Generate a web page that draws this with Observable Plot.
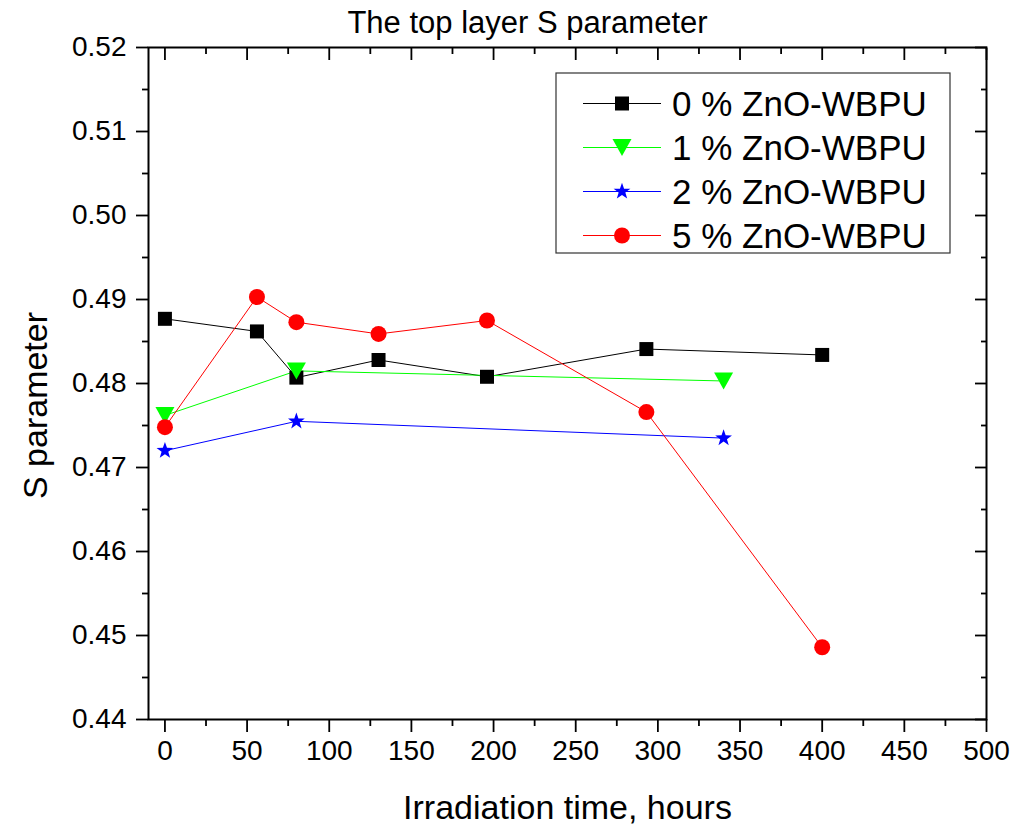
<!DOCTYPE html>
<html>
<head>
<meta charset="utf-8">
<script src="https://cdn.jsdelivr.net/npm/d3@7"></script>
<script src="https://cdn.jsdelivr.net/npm/@observablehq/plot@0.6"></script>
<style>
  html, body { margin: 0; padding: 0; background: white; }
  #chart { position: relative; width: 1017px; height: 831px; }
</style>
</head>
<body>
<div id="chart"></div>
<script>
// ---- Data ----
const seriesNames = ["0 % ZnO-WBPU", "1 % ZnO-WBPU", "2 % ZnO-WBPU", "5 % ZnO-WBPU"];
const seriesColors = ["#000000", "#00ff00", "#0000ff", "#ff0000"];

const hours0 = [0, 56, 80, 130, 196, 293, 400];
const sParam0 = [0.4877, 0.4862, 0.4807, 0.4828, 0.4808, 0.4841, 0.4834];

const hours1 = [0, 80, 340];
const sParam1 = [0.4762, 0.4815, 0.4803];

const hours2 = [0, 80, 340];
const sParam2 = [0.4720, 0.4755, 0.4735];

const hours5 = [0, 56, 80, 130, 196, 293, 400];
const sParam5 = [0.4748, 0.4903, 0.4873, 0.4859, 0.4875, 0.4766, 0.4486];

const xMajorTicks = [0, 50, 100, 150, 200, 250, 300, 350, 400, 450, 500];
const xMinorTicks = [25, 75, 125, 175, 225, 275, 325, 375, 425, 475];
const yMajorTicks = [0.44, 0.45, 0.46, 0.47, 0.48, 0.49, 0.50, 0.51, 0.52];
const yMinorTicks = [0.445, 0.455, 0.465, 0.475, 0.485, 0.495, 0.505, 0.515];

const titleText = "The top layer S parameter";
const xLabel = "Irradiation time, hours";
const yLabel = "S parameter";

// ---- Symbols ----
const symSquare = {draw(ctx) { const h = 7; ctx.rect(-h, -h, 2 * h, 2 * h); }};
const symTriDown = {draw(ctx) { ctx.moveTo(-9.5, -8.5); ctx.lineTo(9.5, -8.5); ctx.lineTo(0, 8.5); ctx.closePath(); }};
const symStar = {draw(ctx) {
  const R = 8.8, r = R * 0.40;
  for (let i = 0; i < 10; i++) {
    const rad = i % 2 === 0 ? R : r;
    const a = -Math.PI / 2 + i * Math.PI / 5;
    const px = rad * Math.cos(a), py = rad * Math.sin(a);
    if (i === 0) ctx.moveTo(px, py); else ctx.lineTo(px, py);
  }
  ctx.closePath();
}};
const symCircle = {draw(ctx) { ctx.moveTo(8, 0); ctx.arc(0, 0, 8, 0, 2 * Math.PI); }};
const symbols = [symSquare, symTriDown, symStar, symCircle];

// ---- Build table ----
const allHours = [hours0, hours1, hours2, hours5];
const allS = [sParam0, sParam1, sParam2, sParam5];
const rows = [];
allHours.forEach((hs, k) => hs.forEach((h, i) => rows.push({series: k, hours: h, s: allS[k][i]})));

const FONT = "'Liberation Sans', Arial, Helvetica, sans-serif";

const marks = [];
for (let k = 0; k < 4; k++) {
  const d = rows.filter(r => r.series === k);
  marks.push(Plot.line(d, {x: "hours", y: "s", stroke: seriesColors[k], strokeWidth: 1}));
}
for (let k = 0; k < 4; k++) {
  const d = rows.filter(r => r.series === k);
  marks.push(Plot.dot(d, {x: "hours", y: "s", symbol: () => symbols[k], fill: seriesColors[k], stroke: "none", r: 8}));
}

const chart = Plot.plot({
  width: 1017,
  height: 831,
  marginLeft: 148,
  marginRight: 31,
  marginTop: 47,
  marginBottom: 112,
  style: {fontFamily: FONT, fontSize: "28px", color: "black", background: "white", overflow: "visible"},
  x: {domain: [-10, 500], nice: false},
  y: {domain: [0.44, 0.52], nice: false},
  symbol: {type: "identity"},
  marks: [
    ...marks,
    // bottom axis (outward)
    Plot.axisX(xMajorTicks, {anchor: "bottom", tickSize: 13, tickPadding: 8, strokeWidth: 1.8, fontSize: 28, tickFormat: d => String(d), label: null}),
    Plot.axisX(xMinorTicks, {anchor: "bottom", tickSize: 7, strokeWidth: 1.8, tickFormat: () => "", label: null}),
    // top axis (inward)
    Plot.axisX(xMajorTicks, {anchor: "top", tickSize: -12, strokeWidth: 1.8, tickFormat: () => "", label: null}),
    Plot.axisX(xMinorTicks, {anchor: "top", tickSize: -6, strokeWidth: 1.8, tickFormat: () => "", label: null}),
    // left axis (outward)
    Plot.axisY(yMajorTicks, {anchor: "left", tickSize: 12, tickPadding: 10, strokeWidth: 1.8, fontSize: 28, tickFormat: d3.format(".2f"), label: null}),
    Plot.axisY(yMinorTicks, {anchor: "left", tickSize: 6, strokeWidth: 1.8, tickFormat: () => "", label: null}),
    // right axis (inward)
    Plot.axisY(yMajorTicks, {anchor: "right", tickSize: -12, strokeWidth: 1.8, tickFormat: () => "", label: null}),
    Plot.axisY(yMinorTicks, {anchor: "right", tickSize: -6, strokeWidth: 1.8, tickFormat: () => "", label: null}),
    Plot.frame({stroke: "black", strokeWidth: 2}),
    // title and axis labels
    Plot.text([titleText], {text: d => d, frameAnchor: "top", textAnchor: "middle", lineAnchor: "middle", dx: -40, dy: -24, fontSize: 31, fill: "black"}),
    Plot.text([xLabel], {text: d => d, frameAnchor: "bottom", textAnchor: "middle", lineAnchor: "middle", dy: 89, fontSize: 34, fill: "black"}),
    Plot.text([yLabel], {text: d => d, frameAnchor: "left", textAnchor: "middle", lineAnchor: "middle", dx: -112, dy: 22, rotate: -90, fontSize: 34, fill: "black"})
  ]
});

document.getElementById("chart").appendChild(chart);

// ---- Legend (drawn into the same SVG) ----
const svg = d3.select(chart);
const legendBox = {x: 556, y: 73, w: 394, h: 180};
const lg = svg.append("g").attr("class", "legend").attr("text-anchor", "start");
lg.append("rect")
  .attr("x", legendBox.x).attr("y", legendBox.y)
  .attr("width", legendBox.w).attr("height", legendBox.h)
  .attr("fill", "white").attr("stroke", "#333").attr("stroke-width", 1.2);
const rowGap = 44;
seriesNames.forEach((name, k) => {
  const cy = legendBox.y + 30.5 + k * rowGap;
  const g = lg.append("g");
  g.append("line")
    .attr("x1", legendBox.x + 27).attr("x2", legendBox.x + 105)
    .attr("y1", cy).attr("y2", cy)
    .attr("stroke", seriesColors[k]).attr("stroke-width", 1);
  g.append("path")
    .attr("transform", `translate(${legendBox.x + 66},${cy})`)
    .attr("d", d3.symbol(symbols[k], 64)())
    .attr("fill", seriesColors[k]);
  g.append("text")
    .attr("x", legendBox.x + 116).attr("y", cy + 12)
    .attr("text-anchor", "start")
    .attr("font-family", FONT).attr("font-size", 35)
    .attr("fill", "black")
    .text(name);
});
</script>
</body>
</html>
